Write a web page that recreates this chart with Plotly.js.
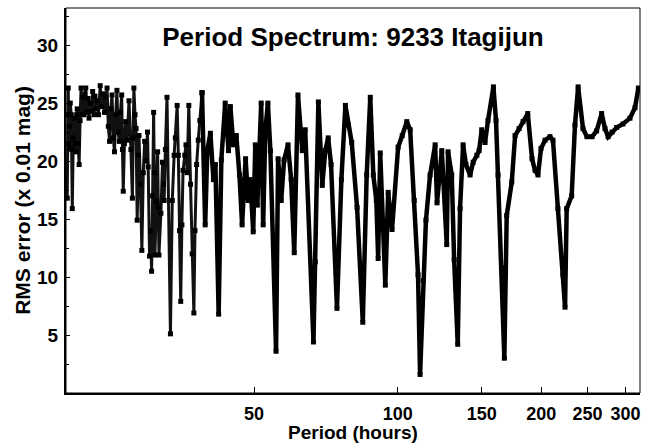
<!DOCTYPE html>
<html>
<head>
<meta charset="utf-8">
<script src="https://cdn.plot.ly/plotly-3.0.1.min.js"></script>
<style>
  html, body { margin: 0; padding: 0; background: #fff; }
  #chart { width: 651px; height: 445px; }
</style>
</head>
<body>
<div id="chart"></div>
<script>
var periodLow = [
  20.3, 20.35, 20.4, 20.45, 20.5, 20.55, 20.6, 20.7, 20.75, 20.8,
  20.9, 21.0, 21.1, 21.2, 21.25, 21.3, 21.4, 21.5, 21.6, 21.7,
  21.8, 21.9, 22.0, 22.1, 22.2, 22.3, 22.45, 22.55, 22.7, 22.8,
  22.95, 23.1, 23.2, 23.3, 23.45, 23.6, 23.8, 23.95, 24.1, 24.3,
  24.45, 24.6, 24.75, 24.9, 25.05, 25.2, 25.35, 25.5, 25.65, 25.8,
  25.95, 26.1, 26.25, 26.4, 26.5, 26.6, 26.75, 26.9, 27.1, 27.35,
  27.6, 27.8, 27.9, 28.0, 28.15, 28.3, 28.45, 28.6, 28.7, 28.9,
  29.1, 29.3, 29.5, 29.7, 29.9, 30.0, 30.2, 30.35, 30.5, 30.65,
  30.8, 30.9, 31.0, 31.2, 31.4, 31.5, 31.6, 31.9, 32.15, 32.3,
  32.4, 32.6, 32.85, 33.4, 33.7, 34.0, 34.2, 34.5, 34.7, 34.9,
  35.1, 35.3, 35.5, 35.8, 36.0, 36.2, 36.5, 36.8, 37.1, 37.4,
  37.6, 37.9, 38.2, 38.5, 38.9
];
// RMS error (x 0.01 mag) for the short periods
var rmsLow = [
  16.8, 24.0, 26.3, 21.5, 23.0, 21.1, 25.0, 24.0, 21.0, 15.9,
  22.0, 23.7, 21.5, 20.8, 24.0, 24.5, 21.5, 19.7, 23.5, 26.3,
  24.0, 25.5, 24.0, 25.8, 26.3, 24.2, 25.4, 23.7, 25.0, 24.3,
  26.0, 24.0, 25.6, 24.5, 25.2, 24.0, 26.5, 24.7, 25.8, 24.2,
  25.5, 26.3, 23.0, 21.7, 24.5, 25.7, 22.0, 20.8, 24.0, 26.1,
  22.5, 21.7, 24.2, 25.7, 21.0, 17.4, 21.5, 23.4, 21.8, 25.2,
  21.0, 16.8, 22.0, 26.3, 24.0, 22.8, 14.9, 20.5, 22.2, 18.0,
  12.3, 19.0, 21.7, 20.0, 22.5, 19.5, 11.8, 14.0, 10.5, 17.0,
  24.2, 19.0, 11.9, 16.5, 20.8, 16.0, 11.9, 15.5, 19.9, 18.0,
  16.6, 21.0, 25.5, 5.1, 16.6, 20.5, 22.0, 24.8, 20.5, 14.0,
  7.9, 14.5, 19.2, 20.5, 21.4, 19.0, 24.8, 18.0, 12.0, 6.9,
  14.0, 19.7, 21.8, 23.5, 25.9
];
// Longer periods (hours)
var periodHigh = [
  38.9, 39.5, 39.9, 40.5, 41.1, 41.5, 42.15, 42.7, 43.5, 44.2,
  44.6, 45.25, 45.9, 46.6, 47.2, 47.7, 48.0, 48.6, 49.1, 49.8,
  50.3, 50.8, 51.75, 52.25, 52.8, 53.45, 54.1, 55.6, 56.15, 57.0,
  57.8, 58.9, 59.8, 60.7, 61.8, 63.1, 64.0, 66.6, 67.2, 68.2,
  69.5, 70.5, 71.5, 72.5, 74.6, 76.2, 77.7, 78.8, 80.1, 82.2,
  84.5, 86.1, 87.6, 88.9, 90.2, 91.0, 91.9, 94.2, 95.5, 97.3,
  100.2, 102.2, 104.5, 106.2, 108.3, 110.3, 111.4, 113.0, 114.6, 116.9,
  119.8, 120.9, 123.7, 126.7, 127.5, 129.8, 131.3, 133.6, 135.1, 137.1,
  139.0, 141.8, 143.9, 146.5, 148.1, 150.0, 152.4, 154.6, 158.7, 160.7,
  162.3, 165.2, 167.3, 169.2, 173.4, 176.2, 179.6, 183.1, 187.3, 191.2,
  194.0, 196.8, 199.7, 203.6, 208.5, 211.5, 216.6, 222.0, 224.2, 226.0,
  231.5, 235.2, 238.8, 244.5, 249.2, 255.4, 261.1, 267.5, 271.9, 276.0,
  281.2, 287.7, 296.5, 306.7, 314.2, 319.4
];
// RMS error (x 0.01 mag) for the longer periods
var rmsHigh = [
  25.9, 14.5, 20.9, 22.4, 18.4, 19.7, 6.8, 20.1, 25.0, 20.9,
  24.7, 21.4, 22.2, 18.8, 14.5, 18.4, 20.2, 16.6, 18.4, 13.9,
  21.4, 16.2, 25.0, 14.5, 22.7, 25.0, 20.9, 3.6, 20.2, 16.6,
  20.1, 21.4, 18.4, 12.1, 25.7, 20.9, 22.7, 4.4, 11.3, 25.1,
  17.9, 20.9, 22.0, 19.7, 7.3, 18.4, 24.8, 23.1, 21.6, 16.0,
  6.1, 18.8, 25.5, 18.8, 16.6, 11.6, 20.7, 9.3, 17.3, 14.1,
  21.2, 22.2, 23.4, 22.7, 16.6, 10.2, 1.6, 9.7, 14.9, 18.8,
  21.4, 16.4, 20.9, 12.8, 20.8, 18.8, 11.5, 4.2, 15.9, 21.4,
  19.7, 18.8, 19.9, 20.5, 20.9, 22.7, 21.6, 23.5, 26.4, 23.5,
  18.8, 10.8, 3.0, 15.3, 18.2, 22.2, 22.8, 23.4, 24.1, 20.2,
  19.2, 18.8, 21.1, 21.8, 22.1, 21.8, 15.9, 10.2, 7.4, 15.9,
  17.0, 23.1, 26.4, 22.8, 22.1, 22.1, 22.6, 24.1, 22.8, 22.1,
  22.5, 22.9, 23.2, 23.7, 24.6, 26.3
];
var xTickVals = [50, 100, 150, 200, 250, 300];
var yTickVals = [5, 10, 15, 20, 25, 30];

var traces = [
  { x: periodLow, y: rmsLow, type: 'scatter', mode: 'lines+markers',
    line: { color: '#111', width: 3 },
    marker: { symbol: 'square', size: 5, color: '#000' }, hoverinfo: 'x+y' },
  { x: periodHigh, y: rmsHigh, type: 'scatter', mode: 'lines+markers',
    line: { color: '#000', width: 4.5 },
    marker: { symbol: 'square', size: 5, color: '#000' }, hoverinfo: 'x+y' }
];

var fontFam = 'Liberation Sans, Arial, sans-serif';
var layout = {
  width: 651, height: 445,
  margin: { l: 66, r: 11, t: 8, b: 52, pad: 0 },
  paper_bgcolor: '#fff', plot_bgcolor: '#fff',
  showlegend: false,
  font: { family: fontFam, color: '#000' },
  title: { text: '<b>Period Spectrum: 9233 Itagijun</b>', font: { size: 26, family: fontFam, color: '#000' },
           x: 0.5, xref: 'paper', xanchor: 'center', y: 0.925, yref: 'paper', yanchor: 'middle' },
  xaxis: {
    type: 'log', range: [Math.log10(20.18), Math.log10(321.9)],
    tickvals: xTickVals, ticktext: xTickVals.map(String),
    ticks: 'inside', ticklen: 6, tickwidth: 1, tickcolor: '#000',
    showgrid: false, zeroline: false,
    showline: true, linewidth: 2, linecolor: '#000', mirror: false,
    tickfont: { size: 18, family: fontFam, color: '#000', weight: 'bold' },
    ticklabelstandoff: 3
  },
  yaxis: {
    range: [0, 33.2],
    tickvals: yTickVals, ticktext: yTickVals.map(String),
    ticks: 'inside', ticklen: 4, tickwidth: 1, tickcolor: '#000',
    minor: { tickvals: [2.5, 7.5, 12.5, 17.5, 22.5, 27.5, 32.5], ticks: 'inside', ticklen: 3, tickcolor: '#000' },
    showgrid: false, zeroline: false,
    showline: true, linewidth: 2, linecolor: '#000', mirror: false,
    tickfont: { size: 19, family: fontFam, color: '#000', weight: 'bold' },
    ticklabelstandoff: 2,
    title: { text: '<b>RMS error (x 0.01 mag)</b>', font: { size: 21, family: fontFam, color: '#000' }, standoff: 1 }
  },
  annotations: [
    { text: '<b>Period (hours)</b>', xref: 'paper', yref: 'paper', x: 0.5, y: -0.103,
      xanchor: 'center', yanchor: 'middle', showarrow: false,
      font: { size: 19, family: fontFam, color: '#000' } }
  ],
  shapes: [
    { type: 'rect', xref: 'paper', yref: 'paper', x0: 0, x1: 1, y0: 0, y1: 1,
      line: { color: '#000', width: 1 }, fillcolor: 'rgba(0,0,0,0)', layer: 'above' }
  ]
};

Plotly.newPlot('chart', traces, layout, { staticPlot: true, displayModeBar: false });
</script>
</body>
</html>
